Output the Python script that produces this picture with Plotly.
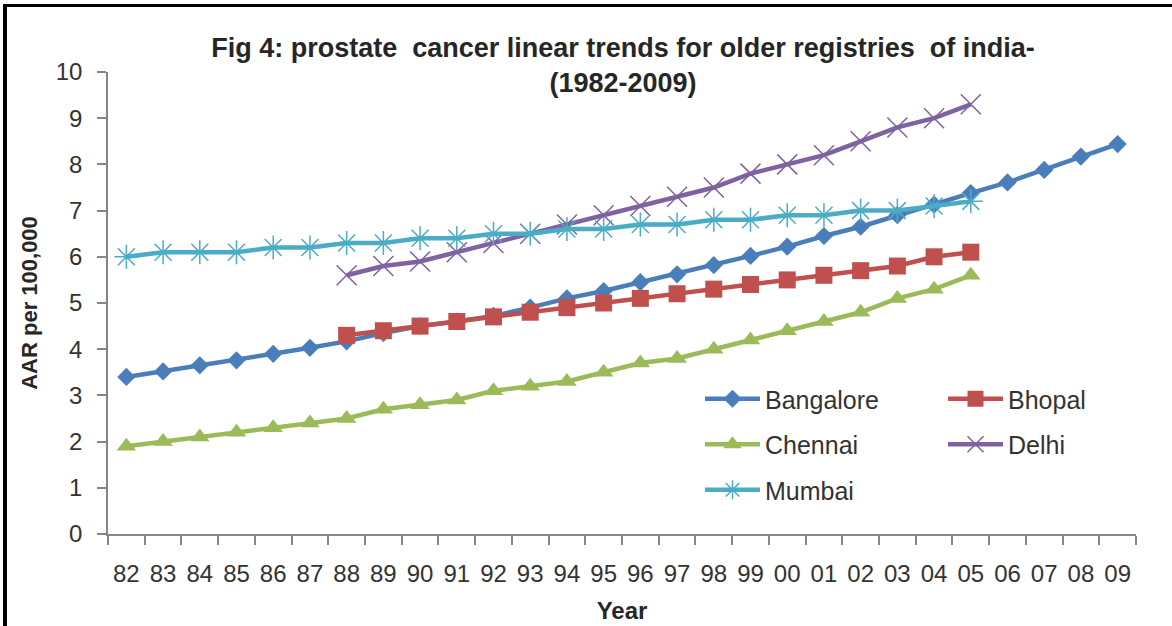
import plotly.graph_objects as go

# Two-digit year labels, 1982-2009
years = ["82", "83", "84", "85", "86", "87", "88", "89", "90", "91", "92", "93", "94",
         "95", "96", "97", "98", "99", "00", "01", "02", "03", "04", "05", "06", "07",
         "08", "09"]
years_88_05 = years[6:24]
years_82_05 = years[:24]

# Age-adjusted rates per 100,000
bangalore = [3.4, 3.52, 3.65, 3.76, 3.9, 4.03, 4.17, 4.35, 4.5, 4.6, 4.72, 4.9, 5.1, 5.26,
             5.45, 5.62, 5.82, 6.02, 6.22, 6.45, 6.65, 6.9, 7.13, 7.38, 7.61, 7.88, 8.17, 8.44]
bhopal = [4.3, 4.4, 4.5, 4.6, 4.7, 4.8, 4.9, 5.0, 5.1, 5.2, 5.3, 5.4, 5.5, 5.6, 5.7, 5.8,
          6.0, 6.1]
chennai = [1.9, 2.0, 2.1, 2.2, 2.3, 2.4, 2.5, 2.7, 2.8, 2.9, 3.1, 3.2, 3.3, 3.5, 3.7, 3.8,
           4.0, 4.2, 4.4, 4.6, 4.8, 5.1, 5.3, 5.6]
delhi = [5.6, 5.8, 5.9, 6.1, 6.3, 6.5, 6.7, 6.9, 7.1, 7.3, 7.5, 7.8, 8.0, 8.2, 8.5, 8.8,
         9.0, 9.3]
mumbai = [6.0, 6.1, 6.1, 6.1, 6.2, 6.2, 6.3, 6.3, 6.4, 6.4, 6.5, 6.5, 6.6, 6.6, 6.7, 6.7,
          6.8, 6.8, 6.9, 6.9, 7.0, 7.0, 7.1, 7.2]

FONT = "Arial, Liberation Sans, sans-serif"
TXT = "#333333"

series = [
    # name, x, y, colour, symbol, size, marker line width, legend
    ("Bangalore", years, bangalore, "#4A7EBB", "diamond", 14, 0, "legend"),
    ("Bhopal", years_88_05, bhopal, "#C0504D", "square", 17, 0, "legend2"),
    ("Chennai", years_82_05, chennai, "#9BBB59", "triangle-up", 17, 0, "legend"),
    ("Delhi", years_88_05, delhi, "#7F62A0", "x-thin", 20, 1.5, "legend2"),
    ("Mumbai", years_82_05, mumbai, "#4BACC6", "asterisk-open", 20, 1.5, "legend"),
]

fig = go.Figure()
for name, xs, ys, col, sym, size, mlw, leg in series:
    marker = dict(symbol=sym, size=size, color=col)
    if mlw:
        marker["line"] = dict(color=col, width=mlw)
    fig.add_trace(go.Scatter(
        x=xs, y=ys, name=name, mode="lines+markers",
        line=dict(color=col, width=4.5),
        marker=marker,
        legend=leg, legendgroup=name,
    ))

axis_col = "#868686"

# page frame: left and top rules
def px_x(p):
    return (p - 108) / 1028

def px_y(p):
    return (534 - p) / 462

shapes = [
    dict(type="line", xref="paper", yref="paper", x0=px_x(5), x1=px_x(5),
         y0=px_y(4), y1=px_y(626), line=dict(color="black", width=4)),
    dict(type="line", xref="paper", yref="paper", x0=px_x(3), x1=px_x(1172),
         y0=px_y(5.5), y1=px_y(5.5), line=dict(color="black", width=3)),
]

legend_common = dict(
    font=dict(family=FONT, size=25, color=TXT),
    bgcolor="rgba(0,0,0,0)", orientation="v", tracegroupgap=10,
    xanchor="left", yanchor="top", itemwidth=55,
)

fig.update_layout(
    width=1172, height=626,
    margin=dict(l=108, r=36, t=72, b=92),
    paper_bgcolor="white", plot_bgcolor="white",
    title=dict(
        text="Fig 4: prostate\u00a0 cancer linear trends for older registries\u00a0 of india-<br>(1982-2009)",
        x=623 / 1172, xanchor="center", xref="container",
        y=1 - 57 / 626, yanchor="top", yref="container",
        font=dict(family=FONT, size=27, color="#262626", weight="bold"),
    ),
    xaxis=dict(
        type="category", categoryorder="array", categoryarray=years,
        range=[-0.5, len(years) - 0.5], automargin=False,
        showline=True, linecolor=axis_col, linewidth=1.5,
        ticks="outside", tickson="boundaries", ticklen=9, tickcolor=axis_col, tickwidth=1.5,
        ticklabelstandoff=17,
        tickfont=dict(family=FONT, size=24, color=TXT),
        showgrid=False, zeroline=False,
        title=dict(text="<b>Year</b>", font=dict(family=FONT, size=24, color="#262626"),
                   standoff=17),
    ),
    yaxis=dict(
        range=[0, 10], dtick=1, tick0=0, automargin=False,
        showline=True, linecolor=axis_col, linewidth=1.5,
        ticks="outside", ticklen=9, tickcolor=axis_col, tickwidth=1.5,
        ticklabelstandoff=10,
        tickfont=dict(family=FONT, size=24, color=TXT),
        showgrid=False, zeroline=False,
        title=dict(text="<b>AAR per 100,000</b>", font=dict(family=FONT, size=22, color="#262626"),
                   standoff=12),
    ),
    legend=dict(x=px_x(700), y=px_y(376), **legend_common),
    legend2=dict(x=px_x(943), y=px_y(376), **legend_common),
    shapes=shapes,
    showlegend=True,
)

fig.write_html("out.html")
